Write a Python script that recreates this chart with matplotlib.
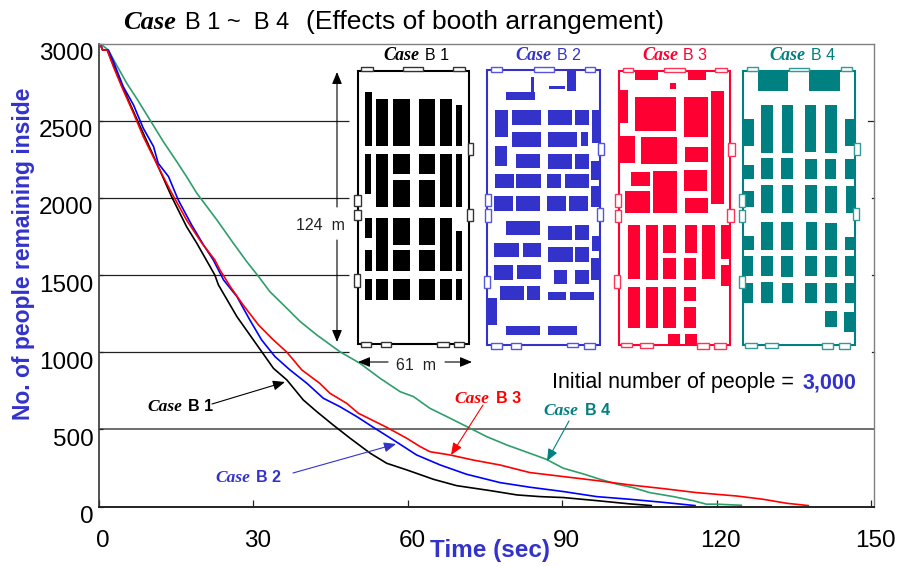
import matplotlib
matplotlib.use('Agg')
import matplotlib.pyplot as plt
import matplotlib.transforms as mtransforms
from matplotlib.patches import Rectangle

# evacuation curves, time in sec / people remaining
b1_time = [0, 0.5, 1.4, 1.9, 4.2, 6.5, 10, 11.3, 13.9, 16.8, 18.8, 22.3, 23, 26.6, 29.8, 33.7, 36.3, 39.5, 42.1, 45.3, 48.6, 52.5, 55.7, 59.6, 64.8, 69.3, 75.8, 81, 85.5, 90, 96.5, 102.9, 107.1]
b1_people = [3000, 2958, 2958, 2915, 2732, 2559, 2300, 2202, 2008, 1814, 1706, 1500, 1436, 1230, 1079, 895, 820, 690, 615, 528, 442, 345, 280, 237, 176, 135, 103, 75, 64, 58, 38, 17, 6]
b2_time = [0, 0.5, 1.6, 2.6, 4.5, 6.5, 8.4, 10.4, 11.3, 13.3, 15.2, 17.8, 20.1, 22, 24, 26.6, 29.1, 31.4, 34, 36.9, 40.2, 43.4, 46.6, 49.9, 53.1, 57, 61.5, 66.1, 71.2, 77.7, 83.5, 90, 96.5, 102.9, 109.4, 115.6]
b2_people = [3000, 2958, 2958, 2883, 2721, 2602, 2451, 2332, 2224, 2138, 1986, 1824, 1695, 1598, 1468, 1360, 1209, 1079, 971, 885, 798, 701, 647, 582, 513, 431, 334, 269, 209, 155, 125, 97, 64, 47, 27, 6]
b3_time = [0, 0.5, 1.4, 2.6, 4.2, 6.5, 8.4, 10, 11.3, 13.6, 16.8, 19.8, 22.3, 23.3, 25.3, 27.8, 30.8, 33.5, 36.3, 39.2, 42.7, 44.7, 47.9, 50.2, 52.8, 55.7, 59.6, 62.2, 64.1, 68, 72.5, 77.7, 83.5, 90, 96.5, 102.9, 109.4, 115.9, 123.7, 128.8, 133.4, 137.6]
b3_people = [3000, 2958, 2958, 2850, 2721, 2548, 2397, 2289, 2202, 2051, 1857, 1706, 1598, 1533, 1425, 1306, 1176, 1085, 1000, 885, 798, 733, 669, 604, 561, 513, 442, 388, 355, 334, 301, 269, 220, 194, 168, 140, 116, 90, 68, 47, 21, 6]
b4_time = [0, 1.6, 3.2, 5.2, 7.1, 9.7, 12.3, 14.9, 16.8, 18.8, 22.7, 25.9, 28.5, 30.8, 33, 36.3, 38.9, 42.1, 46.6, 50.5, 54.4, 58.3, 60.9, 64.1, 67.4, 71.9, 75.1, 79, 83.5, 86.7, 90, 93.9, 97.1, 100.3, 103.6, 106.8, 111.4, 115.2, 117.8, 119.8, 124.6]
b4_people = [3000, 2958, 2861, 2742, 2645, 2505, 2364, 2235, 2138, 2030, 1857, 1706, 1587, 1490, 1392, 1284, 1198, 1112, 1003, 928, 831, 744, 712, 636, 582, 507, 453, 399, 345, 306, 248, 211, 177, 146, 122, 90, 64, 38, 15, 15, 8]

x_ticks = [0, 30, 60, 90, 120, 150]
y_ticks = [0, 500, 1000, 1500, 2000, 2500, 3000]
grid_short = [1000, 1500, 2000, 2500]

# floor plans, traced as (x1, y1, x2, y2) on a 3x grid of each plan's crop
b1_frame = (53, 92, 388, 912)
b1_doors = [(62,80,100,94),(190,80,250,94),(340,80,376,94),(384,308,400,344),(380,508,398,543),(43,465,62,498),(43,510,62,541),(41,703,59,742),(64,905,94,920),(122,905,152,920),(290,905,326,920),(342,905,373,920)]
b1_booths = [(74,157,95,318),(108,178,145,318),(159,178,209,318),(236,178,285,318),(299,178,336,318),(349,196,367,318),
             (74,343,92,462),(108,343,145,501),(159,343,209,403),(159,421,209,501),(236,343,285,403),(236,421,285,501),(299,343,336,501),(349,343,367,501),
             (76,534,95,594),(108,534,145,694),(159,534,209,615),(236,534,285,615),(299,534,336,694),(349,573,367,694),
             (76,631,95,694),(159,631,209,694),(236,631,285,694),
             (74,717,95,780),(108,717,145,780),(159,717,209,780),(236,717,285,780),(299,717,336,780),(349,717,367,780)]
b2_frame = (441, 90, 780, 916)
b2_doors = [(453,80,487,97),(581,82,641,97),(734,80,766,97),(774,308,792,346),(770,505,788,543),(434,462,454,498),(434,507,454,545),(431,708,451,745),(453,908,485,926),(514,908,544,926),(681,908,715,922),(733,908,766,926)]
b2_booths = [(572,112,582,155),(497,155,584,180),(626,138,675,146),(680,90,708,153),
             (465,210,505,292),(516,210,603,254),(624,210,696,254),(706,210,746,254),(756,210,782,310),
             (516,275,603,321),(624,275,711,321),(723,275,744,318),
             (465,318,502,379),(529,343,601,385),(624,343,696,387),(706,343,746,387),(754,362,782,421),
             (465,401,521,444),(529,403,603,444),(621,401,663,444),(675,401,746,444),(754,438,782,500),
             (463,469,519,512),(529,469,601,512),(621,469,677,512),(688,469,744,512),
             (497,543,601,586),(624,558,696,599),(706,556,746,599),(756,588,782,633),
             (463,608,537,652),(548,608,603,652),(624,622,698,665),(706,622,746,665),(754,655,782,719),
             (463,676,519,719),(532,676,603,717),(641,689,680,733),(706,689,746,733),
             (481,737,552,780),(561,737,601,780),(624,755,677,780),(690,755,762,780),
             (441,775,471,856),(497,859,601,885),(624,859,711,885)]
b3_frame = (56, 92, 391, 916)
b3_doors = [(68,83,100,97),(192,83,256,97),(346,83,380,97),(385,310,404,349),(382,507,401,546),(44,462,62,500),(44,509,62,546),(41,706,59,745),(62,908,97,922),(121,908,160,924),(292,908,327,926),(343,908,377,926)]
b3_booths = [(104,90,175,119),(265,90,317,119),(209,128,228,147),(56,149,85,250),(104,170,228,272),(252,170,323,292),(334,152,371,492),
             (56,288,104,370),(123,290,231,371),(255,322,323,366),
             (93,396,149,439),(159,393,231,519),(252,390,321,452),(75,454,149,519),(255,474,323,519),
             (83,555,119,717),(138,555,175,719),(190,555,228,638),(255,555,291,638),(307,555,345,717),(363,555,392,657),
             (190,655,228,717),(252,655,289,719),(363,676,392,738),
             (83,741,119,864),(138,741,175,864),(190,741,228,864),(252,741,289,783),(252,800,289,864),
             (204,883,241,916),(255,883,291,916)]
b4_frame = (430, 92, 765, 916)
b4_doors = [(441,80,475,94),(566,83,628,94),(722,80,755,94),(761,308,779,344),(758,505,777,541),(416,463,435,500),(416,510,435,546),(416,708,435,745),(436,910,470,924),(494,910,533,924),(666,910,700,926),(716,910,750,926)]
b4_booths = [(475,90,564,154),(628,90,720,152),
             (484,196,519,340),(546,196,580,340),(614,196,648,337),(675,196,712,340),
             (430,236,461,318),(736,236,765,318),
             (484,353,519,418),(543,353,579,418),(614,356,651,418),(675,356,709,418),(430,374,461,418),(736,356,765,418),
             (484,435,519,519),(546,435,580,519),(614,435,651,519),(675,438,712,519),(430,453,461,500),(738,437,765,519),
             (484,547,519,631),(543,547,579,631),(617,547,651,631),(675,550,712,631),(430,587,461,631),(736,590,765,631),
             (482,647,519,709),(543,647,579,711),(614,647,651,709),(675,647,712,711),(430,647,458,709),(736,647,765,709),
             (484,726,519,790),(546,728,580,790),(614,728,651,790),(675,728,712,790),(430,728,458,790),(736,728,765,790),
             (675,812,712,861),(733,815,765,877)]

BLUE = '#3333cc'
TEAL = '#008080'
RED = '#ff0033'
SANS = 'Liberation Sans'
SERIF = 'Liberation Serif'

plt.rcParams['font.family'] = SANS

W, H = 902, 567
fig = plt.figure(figsize=(W / 100, H / 100), dpi=100)

# axes placed on the picture's pixels
left, right, top, bottom = 99, 874, 43.5, 506.5
ax = fig.add_axes([left / W, 1 - bottom / H, (right - left) / W, (bottom - top) / H])
ax.set_xlim(0, (right - left) / 5.147)
ax.set_ylim(0, 3000)

ax.plot([t + 0.2 for t in b4_time], b4_people, color='#2e9e6b', lw=1.2)
ax.plot([t + 0.2 for t in b1_time], b1_people, color='black', lw=1.2)
ax.plot([t + 0.2 for t in b2_time], b2_people, color='#0000ff', lw=1.2)
ax.plot([t + 0.2 for t in b3_time], b3_people, color='#ff0000', lw=1.2)

ax.hlines(grid_short, 0, 48.6, color='#222222', lw=0.9, zorder=1)
ax.axhline(500, color='#555555', lw=1.2, zorder=1)

ax.set_xticks(x_ticks)
ax.set_yticks(y_ticks)
ax.tick_params(axis='x', direction='in', length=5, width=0.9, labelsize=17.5, pad=17, color='#222222')
ax.tick_params(axis='y', direction='in', length=3, width=0.9, labelsize=17.5, pad=4, color='#222222')
ax.set_xticklabels([str(v) for v in x_ticks])
ax.set_yticklabels([str(v) for v in y_ticks])
xshift = mtransforms.ScaledTranslation(4 / 100, 0, fig.dpi_scale_trans)
yshift = mtransforms.ScaledTranslation(0, -8 / 100, fig.dpi_scale_trans)
for lab in ax.get_xticklabels():
    lab.set_transform(lab.get_transform() + xshift)
for lab in ax.get_yticklabels():
    lab.set_transform(lab.get_transform() + yshift)

for name in ['top', 'right']:
    ax.spines[name].set_color('#808080')
    ax.spines[name].set_linewidth(1.0)
ax.spines['left'].set_color('#333333')
ax.spines['left'].set_linewidth(1.2)
ax.spines['bottom'].set_color('#222222')
ax.spines['bottom'].set_linewidth(1.4)

# right side ticks
for v, n in zip([1000, 1500, 2000, 2500], [2, 2, 2, 6]):
    ax.plot([150.5 - n / 5.147, 150.5], [v, v], color='#222222', lw=0.9, clip_on=False)

# overlay in picture pixels for the drawn plans and labels
ov = fig.add_axes([0, 0, 1, 1])
ov.set_xlim(0, W)
ov.set_ylim(H, 0)
ov.axis('off')
ov.patch.set_alpha(0)


def draw_plan(x0, y0, frame, doors, booths, color, door_edge):
    for b in booths:
        ov.add_patch(Rectangle((x0 + b[0] / 3, y0 + b[1] / 3), (b[2] - b[0]) / 3, (b[3] - b[1]) / 3,
                               facecolor=color, edgecolor='none', zorder=3))
    ov.add_patch(Rectangle((x0 + frame[0] / 3, y0 + frame[1] / 3), (frame[2] - frame[0]) / 3, (frame[3] - frame[1]) / 3,
                           facecolor='none', edgecolor=color, lw=1.5, zorder=4))
    for d in doors:
        ov.add_patch(Rectangle((x0 + d[0] / 3, y0 + d[1] / 3), (d[2] - d[0]) / 3, (d[3] - d[1]) / 3,
                               facecolor='white', edgecolor=door_edge, lw=1.0, zorder=5))


draw_plan(340, 40, b1_frame, b1_doors, b1_booths, 'black', '#333333')
draw_plan(340, 40, b2_frame, b2_doors, b2_booths, BLUE, '#5555dd')
draw_plan(600, 40, b3_frame, b3_doors, b3_booths, RED, '#ff3355')
draw_plan(600, 40, b4_frame, b4_doors, b4_booths, TEAL, '#339999')


def case_label(x_case, x_tag, y, tag, color, size_case, size_tag, weight='normal'):
    ov.text(x_case, y, 'Case', family=SERIF, style='italic', weight='bold', fontsize=size_case,
            color=color, va='baseline', ha='left')
    ov.text(x_tag, y, tag, fontsize=size_tag, color=color, va='baseline', ha='left', weight=weight)


# title
case_label(123, 185, 29, 'B 1 ~  B 4', 'black', 19, 17)
ov.text(306, 29, '(Effects of booth arrangement)', fontsize=19, color='black', va='baseline', ha='left')

# plan headings
case_label(383, 425, 60.5, 'B 1', 'black', 13, 11.5)
case_label(515, 557, 60.5, 'B 2', BLUE, 13, 11.5)
case_label(642, 683, 60.5, 'B 3', RED, 13, 11.5)
case_label(769, 811, 60.5, 'B 4', TEAL, 13, 11.5)

# curve labels
case_label(147, 188, 411, 'B 1', 'black', 12.5, 11.5, weight='bold')
case_label(215, 256, 482, 'B 2', BLUE, 12.5, 11.5, weight='bold')
case_label(454, 496, 403, 'B 3', '#ff0000', 12.5, 11.5, weight='bold')
case_label(543, 585, 415, 'B 4', TEAL, 12.5, 11.5, weight='bold')

arrows = [((212, 404), (285, 382), 'black'),
          ((293, 473), (396, 444), BLUE),
          ((483, 405), (451, 455), '#ff0000'),
          ((569, 421), (547, 461), TEAL)]
for start, end, col in arrows:
    ov.annotate('', xy=end, xytext=start, zorder=6,
                arrowprops=dict(arrowstyle='-|>,head_width=0.25,head_length=0.6', color=col, lw=0.8,
                                shrinkA=0, shrinkB=0, mutation_scale=12))

# plan dimensions
for start, end in [((337, 207), (337, 72)), ((337, 240), (337, 342)), ((388, 362), (358, 362)), ((445, 362), (472, 362))]:
    ov.annotate('', xy=end, xytext=start,
                arrowprops=dict(arrowstyle='-|>,head_width=0.25,head_length=0.6', color='black', lw=0.8,
                                shrinkA=0, shrinkB=0, mutation_scale=12))
ov.text(320, 226, '124  m', fontsize=11.5, ha='center', va='center', color='#222222')
ov.text(416, 366, '61  m', fontsize=11.5, ha='center', va='center', color='#222222')

# initial number note
ov.text(552, 388, 'Initial number of people =', fontsize=15.5, va='baseline', ha='left', color='black')
ov.text(803, 388, '3,000', fontsize=15.5, va='baseline', ha='left', color=BLUE, weight='bold')

# axis titles
ov.text(24, 254, 'No. of people remaining inside', fontsize=16.5, weight='bold',
        rotation=90, color=BLUE, ha='center', va='center')
ov.text(490, 550, 'Time (sec)', fontsize=17.5, weight='bold',
        color=BLUE, ha='center', va='center')

fig.savefig('out.png', dpi=100)
